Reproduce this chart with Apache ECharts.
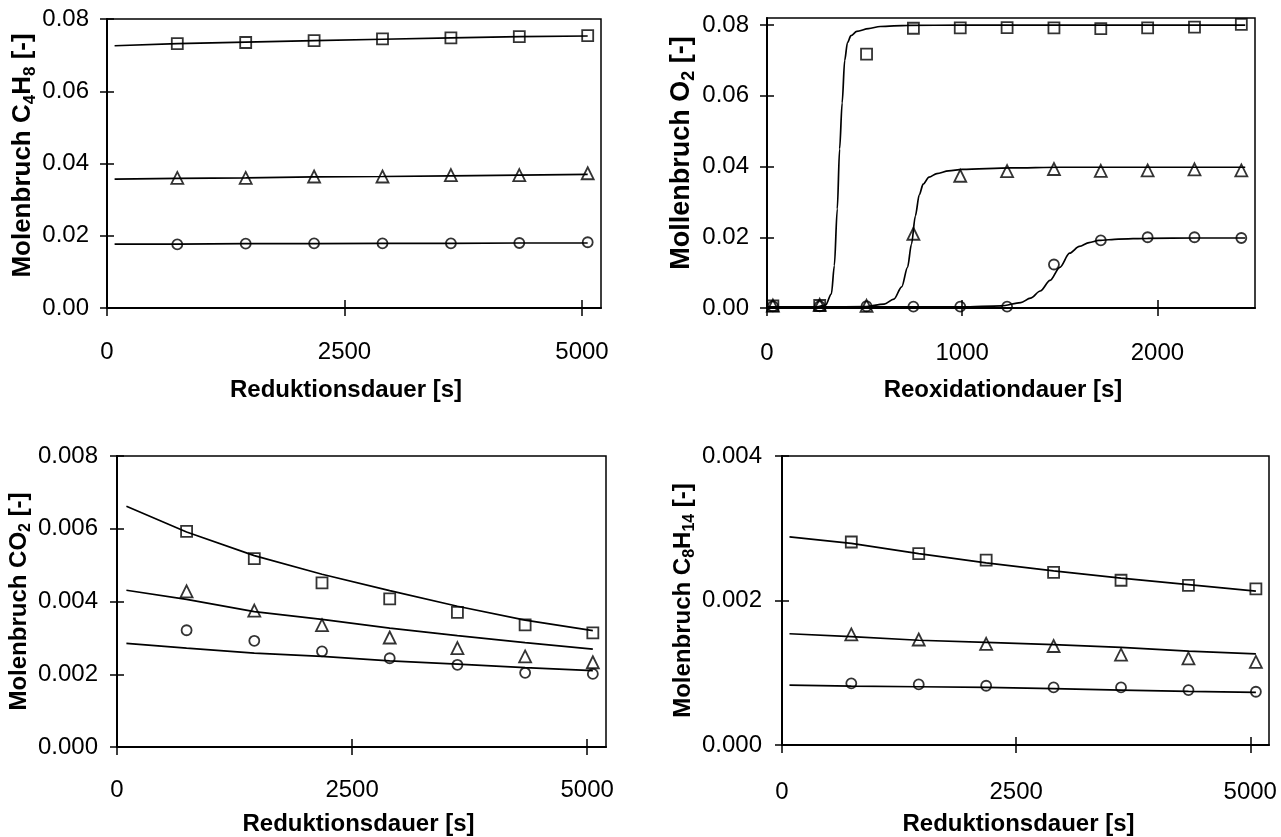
<!DOCTYPE html>
<html><head><meta charset="utf-8">
<script src="https://cdn.jsdelivr.net/npm/echarts@6/dist/echarts.min.js"></script>
<style>html,body{margin:0;padding:0;background:#fff}#c{width:1281px;height:837px}</style>
</head><body><div id="c"></div>
<script>
// ---------- Panel 1: C4H8 vs Reduktionsdauer ----------
const tRed = [740, 1460, 2180, 2900, 3620, 4340, 5060];
const c4h8Sq = [0.0732, 0.0735, 0.0740, 0.0745, 0.0748, 0.0751, 0.0754];
const c4h8Tri = [0.0360, 0.0360, 0.0364, 0.0364, 0.0368, 0.0368, 0.0373];
const c4h8Cir = [0.0176, 0.0178, 0.0179, 0.0179, 0.0179, 0.0180, 0.0182];
const tRedFit = [80, 740, 1460, 2180, 2900, 3620, 4340, 5060];
const c4h8SqFit = [0.0726, 0.0732, 0.0736, 0.0740, 0.0744, 0.0748, 0.0751, 0.0753];
const c4h8TriFit = [0.0357, 0.0359, 0.0360, 0.0363, 0.0364, 0.0366, 0.0368, 0.0370];
const c4h8CirFit = [0.0177, 0.0177, 0.0178, 0.0178, 0.0179, 0.0179, 0.0180, 0.0180];

// ---------- Panel 2: O2 vs Reoxidationdauer ----------
const tOx = [30, 270, 510, 750, 990, 1230, 1470, 1710, 1950, 2190, 2430];
const o2Sq = [0.0006, 0.0007, 0.0718, 0.0791, 0.0792, 0.0793, 0.0792, 0.0790, 0.0792, 0.0794, 0.0802];
const o2Tri = [0.0007, 0.0009, 0.0006, 0.0210, 0.0374, 0.0387, 0.0393, 0.0388, 0.0389, 0.0392, 0.0389];
const o2Cir = [0.0005, 0.0005, 0.0005, 0.0004, 0.0004, 0.0004, 0.0123, 0.0191, 0.0200, 0.0200, 0.0198];
const o2SqFitX = [0, 250, 300, 330, 345, 360, 372, 385, 398, 412, 430, 460, 520, 580, 720, 1000, 1500, 2000, 2450];
const o2SqFitY = [0.0002, 0.0003, 0.0008, 0.004, 0.012, 0.028, 0.045, 0.058, 0.070, 0.0750, 0.0770, 0.0782, 0.0790, 0.0796, 0.0799, 0.0800, 0.0800, 0.0800, 0.0800];
const o2TriFitX = [0, 300, 500, 600, 650, 690, 720, 740, 760, 780, 800, 830, 870, 930, 1000, 1250, 1500, 2000, 2450];
const o2TriFitY = [0.0003, 0.0003, 0.0004, 0.0011, 0.0025, 0.006, 0.0115, 0.018, 0.026, 0.032, 0.0350, 0.0370, 0.0380, 0.0388, 0.0392, 0.0396, 0.0398, 0.0398, 0.0398];
const o2CirFitX = [0, 500, 1000, 1200, 1300, 1350, 1400, 1450, 1500, 1550, 1600, 1650, 1700, 1800, 1950, 2200, 2450];
const o2CirFitY = [0.0003, 0.0003, 0.0003, 0.0006, 0.0015, 0.0028, 0.0048, 0.0078, 0.0115, 0.0155, 0.0174, 0.0185, 0.0191, 0.0195, 0.0197, 0.0198, 0.0198];

// ---------- Panel 3: CO2 vs Reduktionsdauer ----------
const co2Sq = [0.00593, 0.00518, 0.00451, 0.00407, 0.00370, 0.00336, 0.00314];
const co2Tri = [0.00428, 0.00375, 0.00335, 0.00301, 0.00272, 0.00249, 0.00233];
const co2Cir = [0.00321, 0.00292, 0.00263, 0.00244, 0.00226, 0.00204, 0.00201];
const tCo2Fit = [100, 740, 1460, 2180, 2900, 3620, 4340, 5060];
const co2SqFit = [0.00662, 0.00591, 0.00526, 0.00475, 0.00430, 0.00387, 0.00349, 0.00320];
const co2TriFit = [0.00431, 0.00406, 0.00372, 0.00351, 0.00327, 0.00306, 0.00287, 0.00269];
const co2CirFit = [0.00285, 0.00272, 0.00258, 0.00249, 0.00237, 0.00228, 0.00218, 0.00210];

// ---------- Panel 4: C8H14 vs Reduktionsdauer ----------
const c8Sq = [0.00281, 0.00265, 0.00256, 0.00239, 0.00228, 0.00221, 0.00216];
const c8Tri = [0.00153, 0.00146, 0.00140, 0.00137, 0.00125, 0.00120, 0.00115];
const c8Cir = [0.000853, 0.000839, 0.000820, 0.000797, 0.000797, 0.000760, 0.000737];
const tC8Fit = [80, 740, 1460, 2180, 2900, 3620, 4340, 5060];
const c8SqFit = [0.00288, 0.00279, 0.00265, 0.00252, 0.00241, 0.00231, 0.00222, 0.00213];
const c8TriFit = [0.00154, 0.00150, 0.00145, 0.00142, 0.00139, 0.00135, 0.00130, 0.00126];
const c8CirFit = [0.000830, 0.000816, 0.000806, 0.000797, 0.000780, 0.000760, 0.000742, 0.000728];

// ---------- Tick values ----------
const xTicksRed = [0, 2500, 5000];
const xTicksOx = [0, 1000, 2000];
const yTicks1 = [0, 0.02, 0.04, 0.06, 0.08];
const yTicks2 = [0, 0.02, 0.04, 0.06, 0.08];
const yTicks3 = [0, 0.002, 0.004, 0.006, 0.008];
const yTicks4 = [0, 0.002, 0.004];

const FONT = '"Liberation Sans", Arial, sans-serif';
const BLACK = '#000';

const grids = [
  {left: 107, top: 19, width: 494, height: 289},
  {left: 767, top: 18, width: 488, height: 290},
  {left: 117, top: 456, width: 489, height: 297},
  {left: 782, top: 456, width: 487, height: 289}
].map(g => Object.assign(g, {show: true, borderColor: BLACK, borderWidth: 1.5, backgroundColor: 'transparent', containLabel: false}));

function subRich(size) {
  return {s: {fontSize: Math.round(size * 0.67), fontWeight: 'bold', fontFamily: FONT, color: BLACK, verticalAlign: 'bottom', padding: [0, 0, -3, 0]}};
}

function xAxes(gi, max, ticks, margin, name, gap, shift) {
  const base = {type: 'value', gridIndex: gi, min: 0, max: max, position: 'bottom', offset: 0, splitLine: {show: false}};
  return [
    Object.assign({}, base, {
      axisLine: {show: true, onZero: false, lineStyle: {color: BLACK, width: 2}},
      axisTick: {show: true, inside: false, length: 8, customValues: ticks, lineStyle: {color: BLACK, width: 1.5}},
      axisLabel: {show: true, customValues: ticks, margin: margin, fontSize: 24, color: BLACK, fontFamily: FONT, formatter: v => String(v)},
      name: name, nameLocation: 'middle', nameGap: gap,
      nameTextStyle: {fontSize: 24, fontWeight: 'bold', color: BLACK, fontFamily: FONT, padding: [0, shift * 2, 0, 0]}
    }),
    Object.assign({}, base, {
      axisLine: {show: false, onZero: false},
      axisTick: {show: true, inside: true, length: 8, customValues: ticks, lineStyle: {color: BLACK, width: 1.5}},
      axisLabel: {show: false}
    })
  ];
}

function yAxes(gi, max, ticks, digits, margin, name, gap, up, nameSize) {
  const base = {type: 'value', gridIndex: gi, min: 0, max: max, position: 'left', offset: 0, splitLine: {show: false}};
  return [
    Object.assign({}, base, {
      axisLine: {show: true, onZero: false, lineStyle: {color: BLACK, width: 2}},
      axisTick: {show: true, inside: false, length: 7, customValues: ticks, lineStyle: {color: BLACK, width: 1.5}},
      axisLabel: {show: true, customValues: ticks, margin: margin, fontSize: 24, color: BLACK, fontFamily: FONT, formatter: v => v.toFixed(digits)},
      name: name, nameLocation: 'middle', nameGap: gap, nameRotate: 90,
      nameTextStyle: {fontSize: nameSize, fontWeight: 'bold', color: BLACK, fontFamily: FONT, padding: [0, 0, 0, up * 2], rich: subRich(nameSize)}
    }),
    Object.assign({}, base, {
      axisLine: {show: false, onZero: false},
      axisTick: {show: true, inside: true, length: 7, customValues: ticks, lineStyle: {color: BLACK, width: 1.5}},
      axisLabel: {show: false}
    })
  ];
}

const xAxis = [].concat(
  xAxes(0, 5200, xTicksRed, 32, 'Reduktionsdauer [s]', 70, 8),
  xAxes(1, 2500, xTicksOx, 33, 'Reoxidationdauer [s]', 70, 8),
  xAxes(2, 5200, xTicksRed, 31, 'Reduktionsdauer [s]', 65, 3),
  xAxes(3, 5200, xTicksRed, 35, 'Reduktionsdauer [s]', 67, 7)
);
const yAxis = [].concat(
  yAxes(0, 0.08, yTicks1, 2, 18, 'Molenbruch C{s|4}H{s|8} [-]', 68, 8, 26),
  yAxes(1, 0.082, yTicks2, 2, 18, 'Mollenbruch O{s|2} [-]', 68, 10, 27),
  yAxes(2, 0.008, yTicks3, 3, 19, 'Molenbruch CO{s|2} [-]', 76, 0, 24),
  yAxes(3, 0.004, yTicks4, 3, 20, 'Molenbruch C{s|8}H{s|14} [-]', 84, 0, 24)
);

const pairs = (xs, ys) => xs.map((x, i) => [x, ys[i]]);
const series = [];
function addPanel(p, pts, fits, smooth) {
  fits.forEach(([xs, ys]) => series.push({
    type: 'line', xAxisIndex: 2 * p, yAxisIndex: 2 * p, data: pairs(xs, ys),
    showSymbol: false, smooth: smooth, smoothMonotone: 'x', silent: true, z: 2,
    lineStyle: {color: BLACK, width: 1.7}
  }));
  pts.forEach(([xs, ys, sym, size]) => series.push({
    type: 'scatter', xAxisIndex: 2 * p, yAxisIndex: 2 * p, data: pairs(xs, ys),
    symbol: sym, symbolSize: size, z: 3, silent: true,
    itemStyle: {color: 'rgba(0,0,0,0)', borderColor: BLACK, borderWidth: 1.8}
  }));
}
addPanel(0,
  [[tRed, c4h8Sq, 'rect', 11], [tRed, c4h8Tri, 'triangle', 12], [tRed, c4h8Cir, 'circle', 10]],
  [[tRedFit, c4h8SqFit], [tRedFit, c4h8TriFit], [tRedFit, c4h8CirFit]], false);
addPanel(1,
  [[tOx, o2Sq, 'rect', 11], [tOx, o2Tri, 'triangle', 12], [tOx, o2Cir, 'circle', 10]],
  [[o2SqFitX, o2SqFitY], [o2TriFitX, o2TriFitY], [o2CirFitX, o2CirFitY]], 0.3);
addPanel(2,
  [[tRed, co2Sq, 'rect', 11], [tRed, co2Tri, 'triangle', 12], [tRed, co2Cir, 'circle', 10]],
  [[tCo2Fit, co2SqFit], [tCo2Fit, co2TriFit], [tCo2Fit, co2CirFit]], false);
addPanel(3,
  [[tRed, c8Sq, 'rect', 11], [tRed, c8Tri, 'triangle', 12], [tRed, c8Cir, 'circle', 10]],
  [[tC8Fit, c8SqFit], [tC8Fit, c8TriFit], [tC8Fit, c8CirFit]], false);

const chart = echarts.init(document.getElementById('c'), null, {renderer: 'canvas'});
chart.setOption({
  animation: false,
  backgroundColor: '#fff',
  grid: grids,
  xAxis: xAxis,
  yAxis: yAxis,
  series: series
});
</script></body></html>
